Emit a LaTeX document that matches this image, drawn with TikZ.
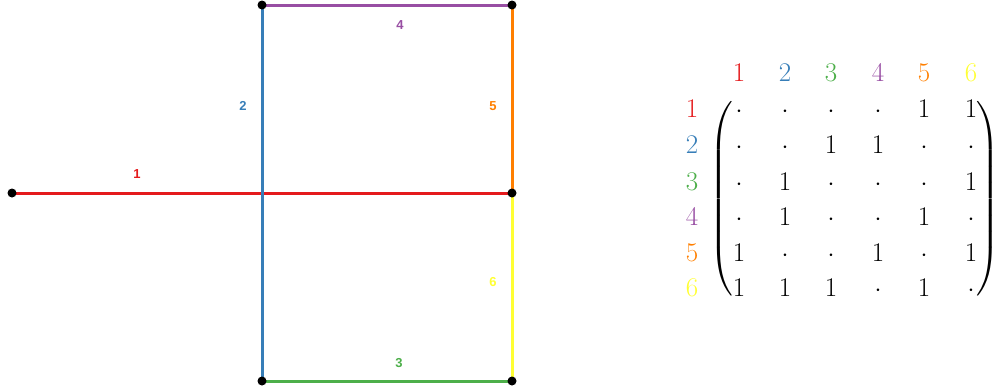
\documentclass[tikz,border=0pt]{standalone}
\usepackage{fontspec}
\newfontfamily\lblfont{Liberation Sans}
\definecolor{cA}{HTML}{E41A1C}
\definecolor{cB}{HTML}{377EB8}
\definecolor{cC}{HTML}{4DAF4A}
\definecolor{cD}{HTML}{984EA3}
\definecolor{cE}{HTML}{FF7F00}
\definecolor{cF}{HTML}{FFFF33}
\begin{document}
\begin{tikzpicture}[x=1pt,y=-1pt,
  vtx/.style={circle,fill=black,inner sep=0pt,minimum size=9pt},
  edge/.style={line width=3pt},
  elbl/.style={font=\lblfont\bfseries\fontsize{13}{14}\selectfont,inner sep=0pt},
  ent/.style={font=\fontsize{27}{30}\selectfont,anchor=base,inner sep=0pt},
  hdr/.style={font=\fontsize{27}{30}\selectfont,anchor=base,inner sep=0pt},
  delim/.style={scale=2.7,inner sep=0pt}]
\useasboundingbox (0,0) rectangle (993,389);
% vertex positions
\coordinate (a) at (12,193);
\coordinate (b) at (262,5);
\coordinate (c) at (512,5);
\coordinate (d) at (512,193);
\coordinate (e) at (262,381);
\coordinate (f) at (512,381);
% edges
\draw[edge,cA] (a) -- (d);
\draw[edge,cB] (b) -- (e);
\draw[edge,cC] (e) -- (f);
\draw[edge,cD] (b) -- (c);
\draw[edge,cE] (c) -- (d);
\draw[edge,cF] (d) -- (f);
% vertices
\node[vtx] (va) at (a) {};
\node[vtx] (vb) at (b) {};
\node[vtx] (vc) at (c) {};
\node[vtx] (vd) at (d) {};
\node[vtx] (ve) at (e) {};
\node[vtx] (vf) at (f) {};
% edge labels
\node[elbl,cA] (l1) at (137,174) {1};
\node[elbl,cB] (l2) at (243,106) {2};
\node[elbl,cC] (l3) at (399,363) {3};
\node[elbl,cD] (l4) at (400,25) {4};
\node[elbl,cE] (l5) at (493,106) {5};
\node[elbl,cF] (l6) at (493,282) {6};
% matrix headers
\node[hdr,cA] (h1) at (739,81) {1};
\node[hdr,cB] (h2) at (785,81) {2};
\node[hdr,cC] (h3) at (831,81) {3};
\node[hdr,cD] (h4) at (878,81) {4};
\node[hdr,cE] (h5) at (924,81) {5};
\node[hdr,cF] (h6) at (971,81) {6};
% row labels
\node[hdr,cA] (r1) at (692,117) {1};
\node[hdr,cB] (r2) at (692,153) {2};
\node[hdr,cC] (r3) at (692,190) {3};
\node[hdr,cD] (r4) at (692,225) {4};
\node[hdr,cE] (r5) at (692,261) {5};
\node[hdr,cF] (r6) at (692,296) {6};
% entries
\foreach \row [count=\i] in {{0,0,0,0,1,1},{0,0,1,1,0,0},{0,1,0,0,0,1},{0,1,0,0,1,0},{1,0,0,1,0,1},{1,1,1,0,1,0}}{
  \pgfmathsetmacro{\yy}{{117,153,190,225,261,296}[\i-1]}
  \foreach \v [count=\j] in \row {
    \pgfmathsetmacro{\xx}{{739,785,831,878,924,971}[\j-1]}
    \ifnum\v=1
      \node[ent] (m\i\j) at (\xx,\yy) {1};
    \else
      \node[ent] (m\i\j) at (\xx,\yy) {$\cdot$};
    \fi
  }
}
% delimiters
\node[delim] (lp) at (723,199) {$\left(\vcenter{\hbox{\rule{0pt}{72pt}}}\right.$};
\node[delim] (rp) at (987,199) {$\left.\vcenter{\hbox{\rule{0pt}{72pt}}}\right)$};
\end{tikzpicture}
\end{document}
